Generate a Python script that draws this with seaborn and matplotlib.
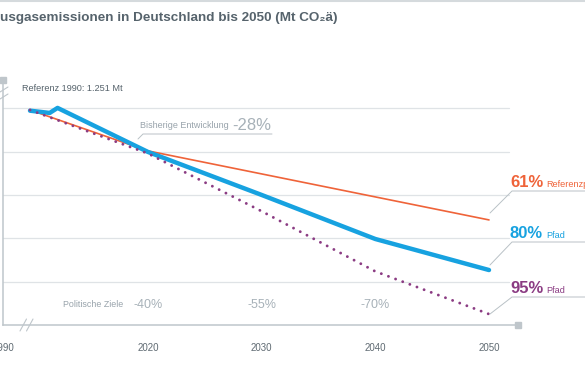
import matplotlib.pyplot as plt
import numpy as np
import seaborn as sns
from matplotlib.lines import Line2D

# values (Mt CO2 equivalent)
years_ref = [1990, 2020, 2050]
ref_pfad = [1240, 1004, 606]
years_80 = [1990, 1995, 1997, 2020, 2030, 2040, 2050]
pfad_80 = [1236, 1223, 1252, 998, 750, 496, 317]
years_95 = [1990, 2020, 2030, 2040, 2050]
pfad_95 = [1240, 989, 656, 309, 63]

grid_vals = [250, 500, 750, 1000, 1250]
tick_years = [2020, 2030, 2040, 2050]
ziel_years = [2020, 2030, 2040]
ziel_labels = ['-40%', '-55%', '-70%']

RED = '#EF6339'
BLUE = '#17A2E0'
PURPLE = '#8B3C83'
AXIS = '#BFC6CB'
GRID = '#DFE3E6'
DARK = '#56636C'
LIGHT = '#A7B1B8'
LEADER = '#B9C1C6'

sns.set_style('white')
plt.rcParams['font.family'] = ['Liberation Sans', 'DejaVu Sans']

# compress the years before 2020 (broken axis)
C = 0.346


def fwd(x):
    x = np.asarray(x, dtype=float)
    return np.where(x < 2020, 2020 - (2020 - x) * C, x)


def inv(y):
    y = np.asarray(y, dtype=float)
    return np.where(y < 2020, 2020 - (2020 - y) / C, y)


def fx(px):
    return px / 585


def fy(py):
    return 1 - py / 390


fig = plt.figure(figsize=(5.85, 3.9), dpi=100)
ax = fig.add_axes([fx(3), fy(325), 515 / 585, 245 / 390])

for g in grid_vals:
    ax.axhline(g, xmax=0.982, color=GRID, lw=0.9, zorder=0)

sns.lineplot(x=years_ref, y=ref_pfad, ax=ax, color=RED, lw=1.2)
sns.lineplot(x=years_80, y=pfad_80, ax=ax, color=BLUE, lw=3.2,
             solid_capstyle='round', solid_joinstyle='round')
sns.lineplot(x=years_95, y=pfad_95, ax=ax, color=PURPLE, lw=2.1,
             linestyle=(0, (0.01, 2.6)), dash_capstyle='round')

ax.set_xscale('function', functions=(fwd, inv))
x_left = float(inv(2020 - 145 / 11.367))
ax.set_xlim(x_left, 2020 + 370 / 11.367)
ax.set_ylim(0, 1413)

ax.set_xticks([x_left] + tick_years, labels=['1990'] + [str(y) for y in tick_years])
ax.tick_params(axis='x', length=0, pad=13, labelsize=7, labelcolor='#5F6A72')
ax.set_yticks([])
ax.set_xlabel('')
ax.set_ylabel('')

sns.despine(ax=ax)
for side in ['left', 'bottom']:
    ax.spines[side].set_color(AXIS)
    ax.spines[side].set_linewidth(1.1)

# end squares of the axes
ax.plot([0], [1], marker='s', ms=4.3, color=AXIS, transform=ax.transAxes, clip_on=False)
ax.plot([1], [0], marker='s', ms=5, color=AXIS, transform=ax.transAxes, clip_on=False)

# axis breaks
for x0 in [20, 26.5]:
    fig.add_artist(Line2D([fx(x0), fx(x0 + 6.5)], [fy(331), fy(319)], color=AXIS, lw=0.8))
for y0 in [90, 97]:
    fig.add_artist(Line2D([fx(0), fx(8)], [fy(y0 + 2), fy(y0 - 3)], color=AXIS, lw=0.8))

# title
fig.add_artist(Line2D([0, 1], [fy(0.8), fy(0.8)], color='#D5DADD', lw=1.5))
fig.text(0, fy(18), 'usgasemissionen in Deutschland bis 2050 (Mt CO₂ä)',
         fontsize=9.7, weight='bold', color=DARK, va='center', ha='left')

fig.text(fx(22), fy(91), 'Referenz 1990: 1.251 Mt', fontsize=6.6, color=DARK,
         va='baseline')

# bisherige Entwicklung
fig.text(fx(140), fy(128.5), 'Bisherige Entwicklung', fontsize=6.5, color='#98A3AB',
         va='baseline')
fig.text(fx(232), fy(129.5), '-28%', fontsize=12, color=LIGHT, va='baseline')
fig.add_artist(Line2D([fx(138), fx(143), fx(272)], [fy(139), fy(134), fy(134)],
                      color=LEADER, lw=0.7))

# politische Ziele
fig.text(fx(63), fy(307), 'Politische Ziele', fontsize=6.4, color='#98A3AB',
         va='baseline')
for yr, lab in zip(ziel_years, ziel_labels):
    ax.text(yr, 100, lab, fontsize=9, color=LIGHT, ha='center', va='baseline')

# end labels
end_labels = [
    ('61%', 'Referenzpfad', RED, 187, 213, 191),
    ('80%', 'Pfad', BLUE, 238, 265, 242),
    ('95%', 'Pfad', PURPLE, 293, 314, 297),
]
for big, small, col, base, y_start, y_line in end_labels:
    fig.text(fx(510), fy(base), big, fontsize=12, weight='bold', color=col, va='baseline')
    fig.text(fx(546), fy(base), small, fontsize=6.6, color=col, va='baseline')
    fig.add_artist(Line2D([fx(490), fx(512), fx(585)], [fy(y_start), fy(y_line), fy(y_line)],
                          color=LEADER, lw=0.7))

fig.savefig('out.png', dpi=100)
